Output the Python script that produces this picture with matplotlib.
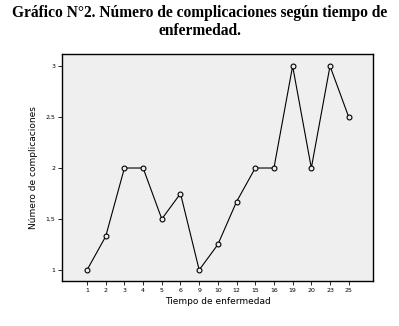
import matplotlib
matplotlib.use("Agg")
import matplotlib.pyplot as plt

categories = ["1", "2", "3", "4", "5", "6", "9", "10", "12", "15", "16", "19", "20", "23", "25"]
values = [1.0, 1.33, 2.0, 2.0, 1.5, 1.75, 1.0, 1.25, 1.67, 2.0, 2.0, 3.0, 2.0, 3.0, 2.5]
yticks = [1, 1.5, 2, 2.5, 3]
ytick_labels = ["1", "1,5", "2", "2,5", "3"]

W, H = 399, 326
fig = plt.figure(figsize=(W / 100, H / 100), dpi=100)
fig.patch.set_facecolor("white")
ax = fig.add_axes([62 / W, 1 - 281 / H, (373 - 62) / W, (281 - 54) / H])
ax.set_facecolor("#efefef")

x = list(range(len(categories)))
ax.plot(x, values, color="black", lw=0.8, marker="o", markersize=3.5,
        markerfacecolor="#efefef", markeredgecolor="black", markeredgewidth=0.8)

ax.set_xlim(-1.34, 15.3)
ax.set_ylim(0.892, 3.118)
ax.set_xticks(x)
ax.set_xticklabels(categories, fontsize=4.5, family="DejaVu Sans")
ax.set_yticks(yticks)
ax.set_yticklabels(ytick_labels, fontsize=4.5, family="DejaVu Sans")
ax.tick_params(direction="out", length=3, width=0.6, pad=2)
for s in ax.spines.values():
    s.set_linewidth(1.0)

ax.set_xlabel("Tiempo de enfermedad", fontsize=6.5, family="DejaVu Sans", labelpad=3)
ax.set_ylabel("Número de complicaciones", fontsize=6.5, family="DejaVu Sans", labelpad=5)

fig.text(200 / W, 1 - 13 / H, "Gráfico N°2. Número de complicaciones según tiempo de",
         ha="center", va="center", fontsize=11.2, fontweight="bold", family="Liberation Serif")
fig.text(200 / W, 1 - 31 / H, "enfermedad.",
         ha="center", va="center", fontsize=11.2, fontweight="bold", family="Liberation Serif")

fig.savefig("out.png", dpi=100)
